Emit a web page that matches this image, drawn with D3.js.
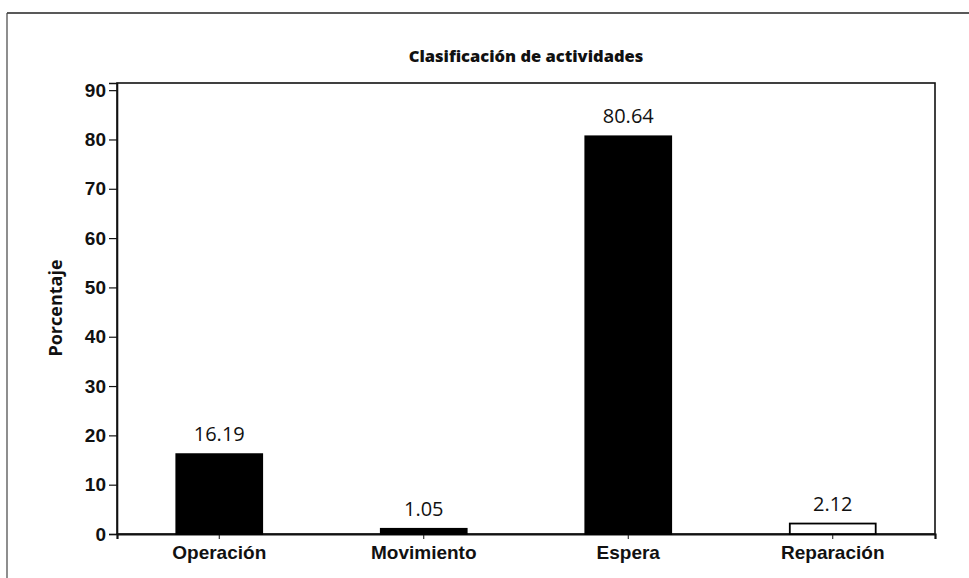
<!DOCTYPE html>
<html>
<head>
<meta charset="utf-8">
<script src="https://cdn.jsdelivr.net/npm/d3@7"></script>
<style>
  body { margin: 0; background: #fff; }
  svg { display: block; font-family: "Open Sans", "DejaVu Sans", sans-serif; }
</style>
</head>
<body>
<svg id="chart" width="969" height="578"></svg>
<script>
const categories = ["Operación", "Movimiento", "Espera", "Reparación"];
const values = [16.19, 1.05, 80.64, 2.12];
const valueLabels = ["16.19", "1.05", "80.64", "2.12"];
const filled = [true, true, true, false];
const yTicks = [0, 10, 20, 30, 40, 50, 60, 70, 80, 90];

const svg = d3.select("#chart");

const plot = { left: 117, right: 935, top: 83, bottom: 534 };

const x = d3.scaleBand()
    .domain(categories)
    .range([plot.left, plot.right])
    .paddingInner(0.58)
    .paddingOuter(0.29);

const y = d3.scaleLinear()
    .domain([0, 91.45])
    .range([plot.bottom, plot.top]);

// outer frame (scan edges)
svg.append("line")
    .attr("x1", 7).attr("x2", 969).attr("y1", 13).attr("y2", 13)
    .attr("stroke", "#222").attr("stroke-width", 1.5);
svg.append("line")
    .attr("x1", 7).attr("x2", 7).attr("y1", 13).attr("y2", 578)
    .attr("stroke", "#444").attr("stroke-width", 1.2);

// title
svg.append("text")
    .attr("x", 526).attr("y", 62)
    .attr("text-anchor", "middle")
    .attr("font-weight", 800)
    .attr("font-size", 16.5)
    .attr("fill", "#111")
    .text("Clasificación  de actividades");

// plot frame
svg.append("rect")
    .attr("x", plot.left).attr("y", plot.top)
    .attr("width", plot.right - plot.left)
    .attr("height", plot.bottom - plot.top)
    .attr("fill", "none")
    .attr("stroke", "#111").attr("stroke-width", 1.6);

// y axis
const yAxis = svg.append("g")
    .attr("transform", `translate(${plot.left},0)`)
    .call(d3.axisLeft(y).tickValues(yTicks).tickSize(8).tickPadding(3));
yAxis.select(".domain").attr("stroke", "#111").attr("stroke-width", 1.6);
yAxis.selectAll(".tick line").attr("stroke", "#111").attr("stroke-width", 1.2);
yAxis.selectAll("text")
    .attr("font-size", 19)
    .attr("font-weight", 700)
    .attr("fill", "#111");

svg.append("text")
    .attr("transform", `translate(62, 308) rotate(-90)`)
    .attr("text-anchor", "middle")
    .attr("font-size", 18)
    .attr("font-weight", 700)
    .attr("fill", "#111")
    .text("Porcentaje");

// x axis
const xAxis = svg.append("g")
    .attr("transform", `translate(0,${plot.bottom})`)
    .call(d3.axisBottom(x).tickSize(5).tickPadding(7));
xAxis.select(".domain").attr("stroke", "#111").attr("stroke-width", 2.2);
xAxis.selectAll(".tick line").attr("stroke", "#111");
xAxis.selectAll("text")
    .attr("font-size", 19)
    .attr("font-weight", 600)
    .attr("fill", "#111");

const data = categories.map((c, i) => ({ c, v: values[i], label: valueLabels[i], filled: filled[i] }));

svg.selectAll("rect.bar")
    .data(data)
    .join("rect")
    .attr("class", "bar")
    .attr("x", d => x(d.c))
    .attr("y", d => y(d.v))
    .attr("width", x.bandwidth())
    .attr("height", d => y(0) - y(d.v))
    .attr("fill", d => d.filled ? "#000" : "#fff")
    .attr("stroke", "#000")
    .attr("stroke-width", 1.8);

svg.selectAll("text.val")
    .data(data)
    .join("text")
    .attr("class", "val")
    .attr("x", d => x(d.c) + x.bandwidth() / 2)
    .attr("y", d => y(d.v) - 13)
    .attr("text-anchor", "middle")
    .attr("font-size", 20)
    .attr("fill", "#111")
    .text(d => d.label);
</script>
</body>
</html>
